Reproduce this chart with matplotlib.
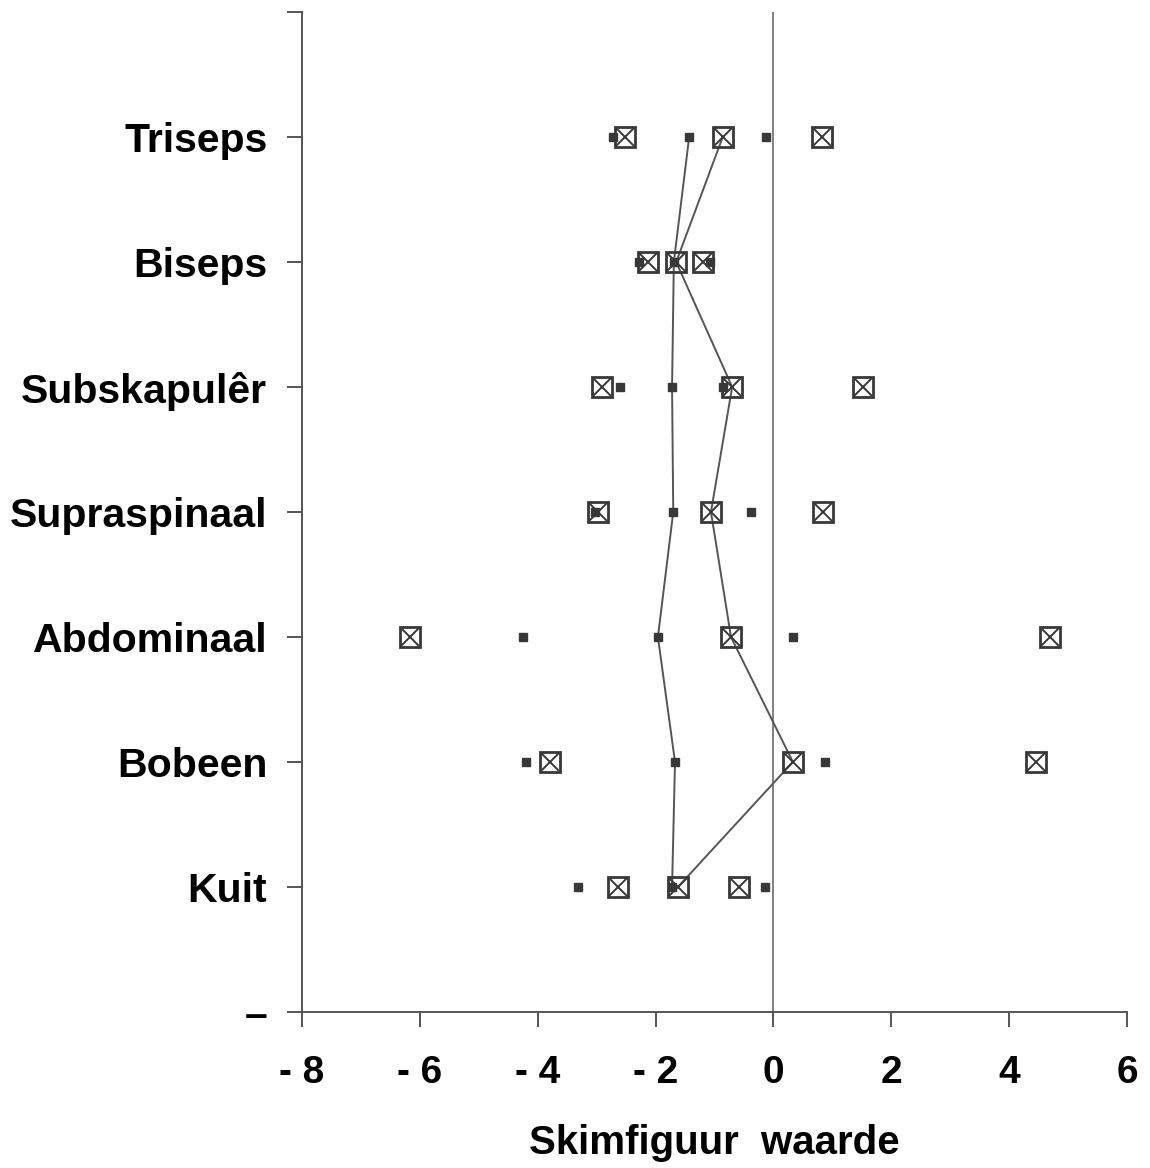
import numpy as np
import matplotlib
matplotlib.use("Agg")
import matplotlib.pyplot as plt

plt.rcParams['font.family'] = ['Liberation Sans', 'DejaVu Sans']

sites = ['Triseps', 'Biseps', 'Subskapulêr', 'Supraspinaal', 'Abdominaal', 'Bobeen', 'Kuit']

# group 1 (small filled squares): mean and the values either side
dot_low = [-2.72, -2.28, -2.60, -3.03, -4.25, -4.20, -3.31]
dot_mean = [-1.43, -1.69, -1.72, -1.70, -1.96, -1.67, -1.72]
dot_high = [-0.13, -1.08, -0.85, -0.38, 0.33, 0.88, -0.14]

# group 2 (boxed crosses)
box_low = [-2.52, -2.13, -2.91, -2.98, -6.16, -3.79, -2.64]
box_mean = [-0.86, -1.65, -0.70, -1.06, -0.72, 0.33, -1.62]
box_high = [0.82, -1.19, 1.52, 0.84, 4.69, 4.46, -0.58]

xticks = [-8, -6, -4, -2, 0, 2, 4, 6]

ypos = np.arange(1, len(sites) + 1)
mk = '#383838'
ln = '#555555'

fig = plt.figure(figsize=(11.5, 11.68), dpi=100)
ax = fig.add_axes([0.2626, 0.1336, 0.9800 - 0.2626, 0.9897 - 0.1336])

ax.axvline(0, color='#6a6a6a', lw=1.2, zorder=1)

# connecting lines through the means
ax.plot(dot_mean, ypos, color=ln, lw=1.4, zorder=2)
ax.plot(box_mean, ypos, color=ln, lw=1.4, zorder=2)

# small squares
for vals in (dot_low, dot_mean, dot_high):
    ax.plot(vals, ypos, ls='none', marker='s', ms=5.5, color=mk, zorder=3)

# boxed crosses
for vals in (box_low, box_mean, box_high):
    ax.plot(vals, ypos, ls='none', marker='s', ms=15, mfc='none', mec=mk, mew=2.0, zorder=4)
    ax.plot(vals, ypos, ls='none', marker='x', ms=13, mec=mk, mew=1.4, zorder=4)

ax.set_xlim(-8, 6)
ax.set_ylim(8, 0)
ax.spines['top'].set_visible(False)
ax.spines['right'].set_visible(False)
for s in ('left', 'bottom'):
    ax.spines[s].set_color('#555555')
    ax.spines[s].set_linewidth(1.4)

ax.set_xticks(xticks)
ax.set_xticklabels([('- ' + str(abs(t))) if t < 0 else str(t) for t in xticks],
                   fontsize=28, fontweight='bold')
ax.set_yticks(list(range(0, len(sites) + 2)))
ax.set_yticklabels([''] + sites + ['–'], fontsize=29.5, fontweight='bold')
ax.tick_params(axis='x', direction='out', length=11, width=1.4, color='#555555', pad=20)
ax.tick_params(axis='y', direction='out', length=11, width=1.4, color='#555555', pad=14)

ax.set_xlabel('Skimfiguur  waarde', fontsize=29, fontweight='bold', labelpad=24)

fig.savefig('out.png', dpi=100, facecolor='white')
